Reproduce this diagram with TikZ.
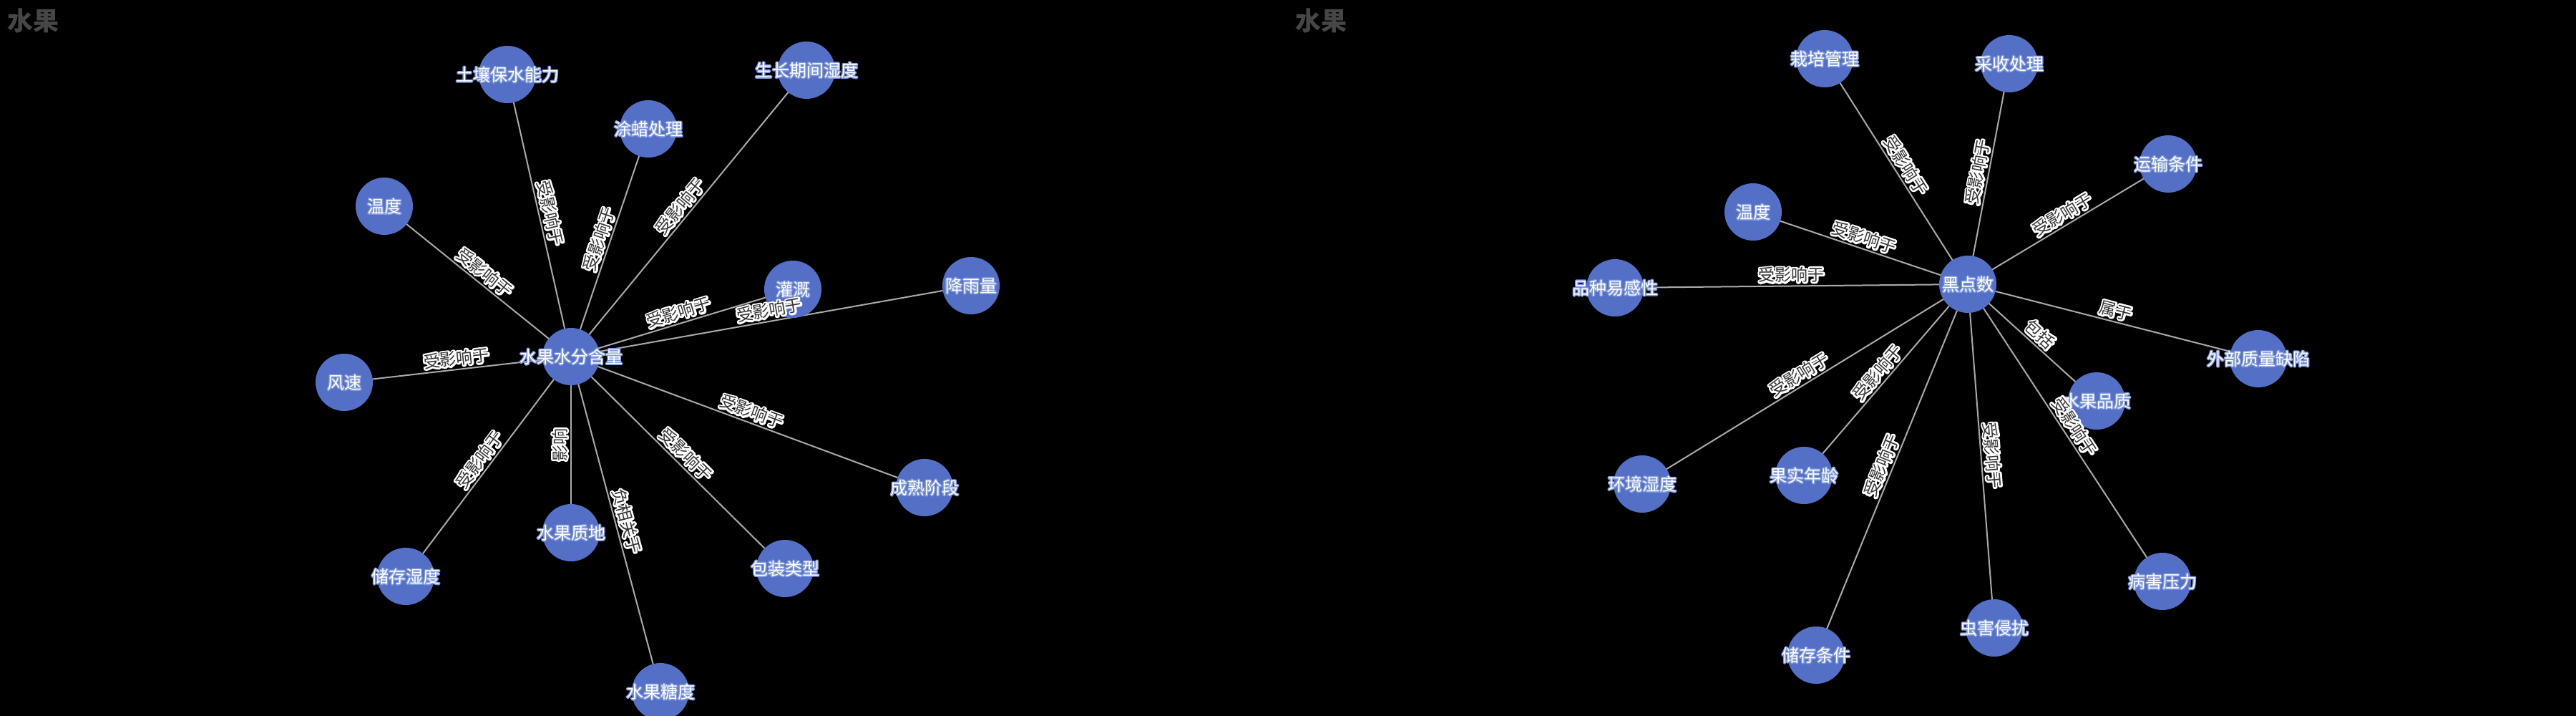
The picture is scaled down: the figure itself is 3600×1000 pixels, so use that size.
\documentclass[tikz,border=0pt]{standalone}
\usepackage{fontspec}
\setmainfont{Noto Sans CJK SC}
\definecolor{nodeblue}{HTML}{5470C6}
\definecolor{nodehalo}{HTML}{7F97DD}
\definecolor{edgegray}{HTML}{AAAAAA}
\definecolor{labtext}{HTML}{333333}
\definecolor{titlegray}{HTML}{464646}
\newbox\halobox
% #1 stroke width (bp), #2 outline colour, #3 text colour, #4 text
\newcommand\halo[4]{{\setbox\halobox=\hbox{#4}%
\makebox[0pt][l]{\color{#2}\special{pdf:literal direct 1 Tr #1 w 1 j}\copy\halobox\special{pdf:literal direct 0 Tr}}%
\color{#3}\copy\halobox}}
\newcommand\nlab[1]{\makebox[0pt]{\halo{3}{nodehalo}{white}{#1}}}
\newcommand\elab[1]{\halo{5}{white}{labtext}{#1}}
\pgfdeclarelayer{bg}
\pgfdeclarelayer{edges}
\pgfsetlayers{bg,edges,main}
\tikzset{
  ent/.style={circle, fill=nodeblue, minimum size=80pt, inner sep=0pt, outer sep=0pt,
    font=\fontsize{24}{24}\selectfont},
  rel/.style={draw=edgegray, line width=2pt},
  elabel/.style={sloped, above, inner sep=5pt, font=\fontsize{23}{23}\selectfont},
  charttitle/.style={anchor=west, inner sep=0pt, text=titlegray,
    font=\fontsize{36}{36}\selectfont\bfseries},
}
\begin{document}
\begin{tikzpicture}[x=1pt,y=-1pt]
\begin{pgfonlayer}{bg}
\fill[black] (0,0) rectangle (3600,1000);
\end{pgfonlayer}
\useasboundingbox (0,0) rectangle (3600,1000);

% titles
\node[charttitle] (t1) at (10,28.5) {水果};
\node[charttitle] (t2) at (1810,28.5) {水果};

% left graph nodes
\node[ent] (W) at (798,498) {\nlab{水果水分含量}};
\node[ent] (L1) at (709,104) {\nlab{土壤保水能力}};
\node[ent] (L2) at (906,180) {\nlab{涂蜡处理}};
\node[ent] (L3) at (1127,98) {\nlab{生长期间湿度}};
\node[ent] (L4) at (537,288) {\nlab{温度}};
\node[ent] (L5) at (1108,404) {\nlab{灌溉}};
\node[ent] (L6) at (1357,399) {\nlab{降雨量}};
\node[ent] (L7) at (481,534) {\nlab{风速}};
\node[ent] (L8) at (1292,681) {\nlab{成熟阶段}};
\node[ent] (L9) at (567,805) {\nlab{储存湿度}};
\node[ent] (L10) at (798,744) {\nlab{水果质地}};
\node[ent] (L11) at (1097,794) {\nlab{包装类型}};
\node[ent] (L12) at (923,966) {\nlab{水果糖度}};

% right graph nodes
\node[ent] (B) at (2750,397) {\nlab{黑点数}};
\node[ent] (R1) at (2550,82) {\nlab{栽培管理}};
\node[ent] (R2) at (2808,89) {\nlab{采收处理}};
\node[ent] (R3) at (3030,229) {\nlab{运输条件}};
\node[ent] (R4) at (2450,296) {\nlab{温度}};
\node[ent] (R5) at (2257,402) {\nlab{品种易感性}};
\node[ent] (R6) at (3156,501) {\nlab{外部质量缺陷}};
\node[ent] (R7) at (2930,560) {\nlab{水果品质}};
\node[ent] (R8) at (3022,812) {\nlab{病害压力}};
\node[ent] (R9) at (2787,877) {\nlab{虫害侵扰}};
\node[ent] (R10) at (2538,915) {\nlab{储存条件}};
\node[ent] (R11) at (2521,664) {\nlab{果实年龄}};
\node[ent] (R12) at (2295,676) {\nlab{环境湿度}};

% connector lines (under the nodes)
\begin{pgfonlayer}{edges}
\foreach \n in {L1,L2,L3,L4,L5,L6,L7,L8,L9,L11,L12}
  \draw[rel] (W.center) -- (\n.center);
\draw[rel] (L10.center) -- (W.center);
\foreach \n in {R1,R2,R3,R4,R5,R6,R7,R8,R9,R10,R11,R12}
  \draw[rel] (B.center) -- (\n.center);
\end{pgfonlayer}

% connector labels (over the nodes)
\path (W) -- node[elabel]{\elab{受影响于}} (L1);
\path (W) -- node[elabel]{\elab{受影响于}} (L2);
\path (W) -- node[elabel]{\elab{受影响于}} (L3);
\path (W) -- node[elabel]{\elab{受影响于}} (L4);
\path (W) -- node[elabel]{\elab{受影响于}} (L5);
\path (W) -- node[elabel]{\elab{受影响于}} (L6);
\path (W) -- node[elabel]{\elab{受影响于}} (L7);
\path (W) -- node[elabel]{\elab{受影响于}} (L8);
\path (W) -- node[elabel]{\elab{受影响于}} (L9);
\path (L10) -- node[elabel]{\elab{影响}} (W);
\path (W) -- node[elabel]{\elab{受影响于}} (L11);
\path (W) -- node[elabel]{\elab{负相关于}} (L12);

\path (B) -- node[elabel]{\elab{受影响于}} (R1);
\path (B) -- node[elabel]{\elab{受影响于}} (R2);
\path (B) -- node[elabel]{\elab{受影响于}} (R3);
\path (B) -- node[elabel]{\elab{受影响于}} (R4);
\path (B) -- node[elabel]{\elab{受影响于}} (R5);
\path (B) -- node[elabel]{\elab{属于}} (R6);
\path (B) -- node[elabel]{\elab{包括}} (R7);
\path (B) -- node[elabel]{\elab{受影响于}} (R8);
\path (B) -- node[elabel]{\elab{受影响于}} (R9);
\path (B) -- node[elabel]{\elab{受影响于}} (R10);
\path (B) -- node[elabel]{\elab{受影响于}} (R11);
\path (B) -- node[elabel]{\elab{受影响于}} (R12);
\end{tikzpicture}
\end{document}
